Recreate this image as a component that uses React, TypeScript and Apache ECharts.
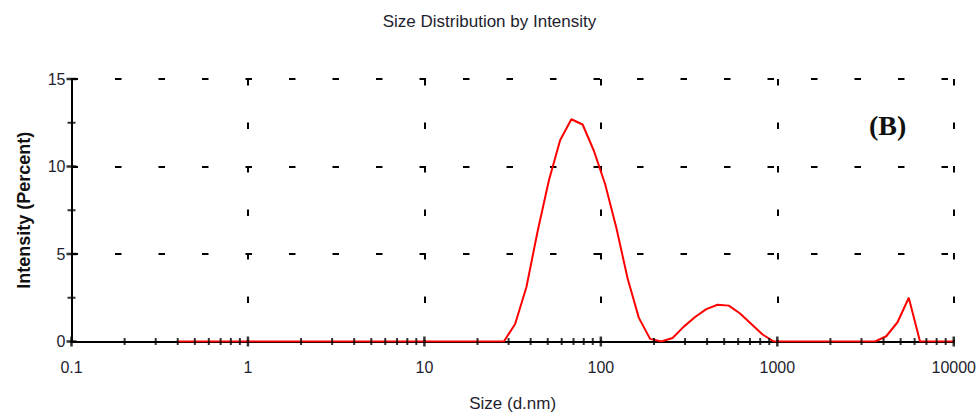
import React, { useEffect, useRef } from "react";
import * as echarts from "echarts";

// Size bins (d.nm) and intensity (%)
const sizes: number[] = [
  0.4, 0.4632, 0.5365, 0.6213, 0.7195, 0.8332, 0.9649, 1.117, 1.294, 1.499,
  1.736, 2.01, 2.328, 2.696, 3.122, 3.615, 4.187, 4.849, 5.615, 6.503,
  7.531, 8.721, 10.1, 11.7, 13.54, 15.69, 18.17, 21.04, 24.36, 28.21,
  32.67, 37.84, 43.82, 50.75, 58.77, 68.06, 78.82, 91.28, 105.7, 122.4,
  141.8, 164.2, 190.1, 220.2, 255.0, 295.3, 342.0, 396.1, 458.7, 531.2,
  615.1, 712.4, 825.0, 955.4, 1106, 1281, 1484, 1718, 1990, 2305,
  2669, 3091, 3580, 4145, 4801, 5560, 6439, 7456, 8635, 10000,
];
const intensity: number[] = [
  0, 0, 0, 0, 0, 0, 0, 0, 0, 0,
  0, 0, 0, 0, 0, 0, 0, 0, 0, 0,
  0, 0, 0, 0, 0, 0, 0, 0, 0, 0,
  1.0, 3.1, 6.3, 9.2, 11.5, 12.7, 12.4, 10.9, 9.0, 6.5,
  3.6, 1.35, 0.15, 0, 0.2, 0.85, 1.4, 1.85, 2.1, 2.05,
  1.6, 1.0, 0.4, 0, 0, 0, 0, 0, 0, 0,
  0, 0, 0, 0.3, 1.1, 2.5, 0, 0, 0, 0,
];

// Tick definitions
const xDecades: number[] = [0.1, 1, 10, 100, 1000, 10000];
const xMinorMultipliers: number[] = [2, 3, 4, 5, 6, 7, 8, 9];
const yMajorTicks: number[] = [0, 5, 10, 15];
const yMinorTicks: number[] = [2.5, 7.5, 12.5];

const TITLE = "Size Distribution by Intensity";
const X_NAME = "Size (d.nm)";
const Y_NAME = "Intensity (Percent)";
const PANEL_LABEL = "(B)";

export default function App() {
  const ref = useRef<HTMLDivElement>(null);

  useEffect(() => {
    if (!ref.current) return;
    const chart = echarts.init(ref.current, undefined, { renderer: "svg" });

    const data = sizes.map((s, i) => [s, intensity[i]]);
    const xMinor: number[][] = [];
    xDecades.slice(0, -1).forEach((d) =>
      xMinorMultipliers.forEach((m) => xMinor.push([d * m, 0]))
    );
    const xMajor = xDecades.map((d) => [d, 0]);
    const yMaj = yMajorTicks.map((v) => [xDecades[0], v]);
    const yMin = yMinorTicks.map((v) => [xDecades[0], v]);

    const font = '"Liberation Sans", Arial, sans-serif';
    const textColor = "#1e1e2e";

    chart.setOption({
      animation: false,
      backgroundColor: "#ffffff",
      title: {
        text: TITLE,
        left: "center",
        top: 8,
        textStyle: {
          fontFamily: font,
          fontSize: 17,
          fontWeight: "normal",
          color: textColor,
        },
      },
      grid: { left: 71.5, right: 24, top: 79, bottom: 75.5, containLabel: false },
      xAxis: {
        type: "log",
        logBase: 10,
        min: 0.1,
        max: 10000,
        name: X_NAME,
        nameLocation: "middle",
        nameGap: 53,
        nameTextStyle: { fontFamily: font, fontSize: 17, color: textColor },
        axisLine: { show: true, lineStyle: { color: "#000", width: 2 } },
        axisTick: { show: false },
        minorTick: { show: false },
        axisLabel: {
          margin: 18,
          fontFamily: font,
          fontSize: 16,
          color: textColor,
          formatter: (v: number) => String(Number(v.toPrecision(6))),
        },
        splitLine: {
          show: true,
          lineStyle: { color: "#000", width: 2, type: [6.5, 37], dashOffset: 0 },
        },
      },
      yAxis: {
        type: "value",
        min: 0,
        max: 15,
        interval: 5,
        name: Y_NAME,
        nameLocation: "middle",
        nameGap: 39,
        nameTextStyle: {
          fontFamily: font,
          fontSize: 18,
          fontWeight: "bold",
          color: "#111",
        },
        axisLine: { show: true, lineStyle: { color: "#000", width: 2 } },
        axisTick: { show: false },
        axisLabel: { margin: 6, fontFamily: font, fontSize: 16, color: textColor },
        splitLine: {
          show: true,
          lineStyle: { color: "#000", width: 2, type: [6.5, 37], dashOffset: 0 },
        },
      },
      graphic: [
        {
          type: "text",
          left: 869,
          top: 111,
          style: {
            text: PANEL_LABEL,
            font: 'bold 28px "Liberation Serif", "Times New Roman", serif',
            fill: "#111",
          },
        },
      ],
      series: [
        {
          type: "line",
          data,
          showSymbol: false,
          symbol: "none",
          lineStyle: { color: "#ff0000", width: 2 },
          itemStyle: { color: "#ff0000" },
          z: 3,
          silent: true,
        },
        {
          type: "scatter",
          data: xMinor,
          symbol: "rect",
          symbolSize: [2, 7],
          itemStyle: { color: "#000" },
          z: 5,
          silent: true,
        },
        {
          type: "scatter",
          data: xMajor,
          symbol: "rect",
          symbolSize: [2.5, 10],
          itemStyle: { color: "#000" },
          z: 5,
          silent: true,
        },
        {
          type: "scatter",
          data: yMaj,
          symbol: "rect",
          symbolSize: [10, 2.5],
          itemStyle: { color: "#000" },
          z: 5,
          silent: true,
        },
        {
          type: "scatter",
          data: yMin,
          symbol: "rect",
          symbolSize: [8, 2],
          itemStyle: { color: "#000" },
          z: 5,
          silent: true,
        },
      ],
    });

    return () => chart.dispose();
  }, []);

  return <div ref={ref} style={{ width: 979, height: 417, position: "absolute", left: 0, top: 0 }} />;
}
